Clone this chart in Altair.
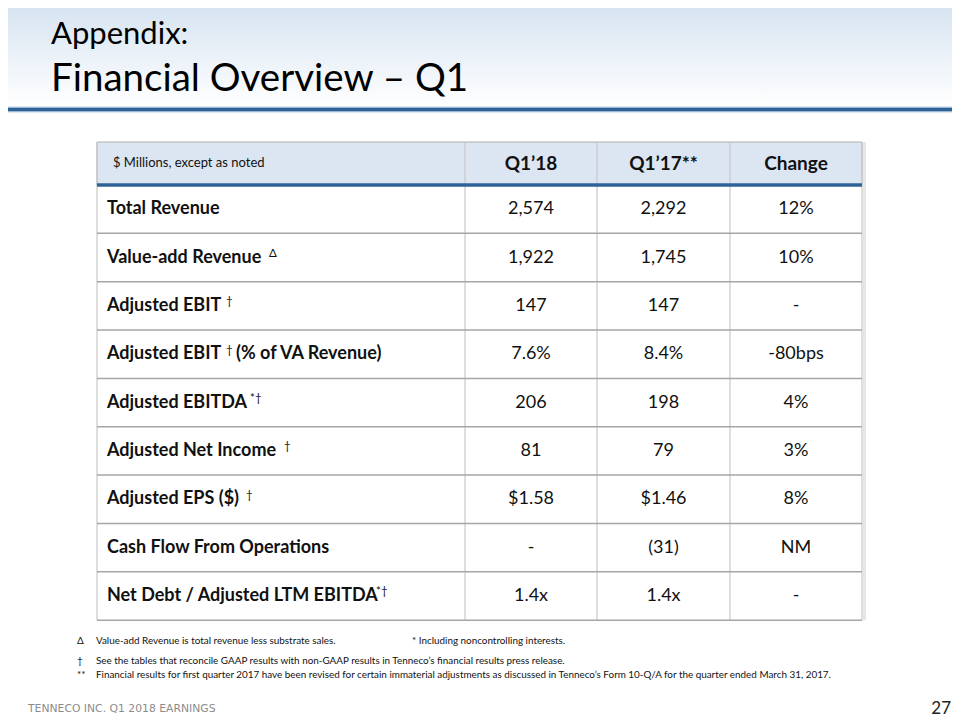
import altair as alt
import pandas as pd

# ---------------- data ----------------
title_line1 = "Appendix:"
title_line2 = "Financial Overview \u2013 Q1"
header_note = "$ Millions, except as noted"
columns = ["Q1\u201918", "Q1\u201917**", "Change"]

metrics = [
    "Total Revenue",
    "Value-add Revenue",
    "Adjusted EBIT",
    "Adjusted EBIT",
    "Adjusted EBITDA",
    "Adjusted Net Income",
    "Adjusted EPS ($)",
    "Cash Flow From Operations",
    "Net Debt / Adjusted LTM EBITDA",
]
metric_sup = ["", "\u0394", "\u2020", "\u2020", "*\u2020", "\u2020", "\u2020", "", "*\u2020"]
metric_suffix = ["", "", "", "(% of VA Revenue)", "", "", "", "", ""]
q1_18 = ["2,574", "1,922", "147", "7.6%", "206", "81", "$1.58", "-", "1.4x"]
q1_17 = ["2,292", "1,745", "147", "8.4%", "198", "79", "$1.46", "(31)", "1.4x"]
change = ["12%", "10%", "-", "-80bps", "4%", "3%", "8%", "NM", "-"]

footnote_symbols = ["\u0394", "\u2020", "**"]
footnote_texts = [
    "Value-add Revenue is total revenue less substrate sales.",
    "See the tables that reconcile GAAP results with non-GAAP results in Tenneco\u2019s financial results press release.",
    "Financial results for first quarter 2017  have been revised for certain immaterial adjustments as discussed in Tenneco\u2019s Form 10-Q/A for the quarter ended March 31, 2017.",
]
footnote_extra = "* Including noncontrolling interests."
footer_left = "TENNECO INC. Q1 2018 EARNINGS"
page_number = "27"

# ---------------- layout ----------------
FONT = "Lato"
W, H = 944, 712
X0, Y0 = 8, 8
xs = alt.Scale(domain=[X0, X0 + W], nice=False, zero=False)
ys = alt.Scale(domain=[Y0, Y0 + H], nice=False, zero=False, reverse=True)

COL_EDGES = [97, 465, 597, 730, 862]
HEAD_TOP, HEAD_BOT = 142, 185
ROW_H = 48.35
N = len(metrics)
LABEL_X = 107
SUP_X = [0, 269, 226, 226, 250, 284, 246, 0, 376]
SUFFIX_X = 236


def X(f="x"):
    return alt.X(f"{f}:Q", scale=xs, axis=None)


def Y(f="y"):
    return alt.Y(f"{f}:Q", scale=ys, axis=None)


def text_layer(df, font=FONT, **kw):
    return alt.Chart(df).mark_text(font=font, **kw).encode(x=X(), y=Y(), text="t:N")


layers = []

# title band gradient
band = pd.DataFrame({"x": [X0], "x2": [X0 + W], "y": [Y0], "y2": [106]})
layers.append(
    alt.Chart(band).mark_rect(
        color={
            "gradient": "linear", "x1": 0, "x2": 0, "y1": 0, "y2": 1,
            "stops": [{"offset": 0, "color": "#D7E4F1"}, {"offset": 1, "color": "#FFFFFF"}],
        }
    ).encode(x=X(), x2="x2", y=Y(), y2="y2")
)
# title underline
tl = pd.DataFrame({"x": [X0], "x2": [X0 + W], "y": [109.5]})
layers.append(alt.Chart(tl).mark_rule(color="#BFD3E8", strokeWidth=6).encode(x=X(), x2="x2", y=Y()))
layers.append(alt.Chart(tl).mark_rule(color="#2F6397", strokeWidth=3.5).encode(x=X(), x2="x2", y=Y()))

# title texts
layers.append(text_layer(pd.DataFrame({"x": [51], "y": [44], "t": [title_line1]}),
                         align="left", baseline="alphabetic", fontSize=31, color="#000000"))
layers.append(text_layer(pd.DataFrame({"x": [51], "y": [91], "t": [title_line2]}),
                         align="left", baseline="alphabetic", fontSize=38.5, color="#000000"))

# header background
hb = pd.DataFrame({"x": [COL_EDGES[0]], "x2": [COL_EDGES[-1]], "y": [HEAD_TOP], "y2": [HEAD_BOT]})
layers.append(alt.Chart(hb).mark_rect(color="#DCE6F2", stroke="#B0B0B0", strokeWidth=1)
              .encode(x=X(), x2="x2", y=Y(), y2="y2"))

# vertical grid lines
bottom = HEAD_BOT + N * ROW_H
vl = pd.DataFrame({"x": COL_EDGES, "y": [HEAD_TOP] * 5, "y2": [bottom] * 5})
layers.append(alt.Chart(vl).mark_rule(color="#C8C8C8", strokeWidth=1.2).encode(x=X(), y=Y(), y2="y2"))
# right shadow
sh = pd.DataFrame({"x": [COL_EDGES[-1] + 2.5], "y": [HEAD_TOP], "y2": [bottom]})
layers.append(alt.Chart(sh).mark_rule(color="#E6E6E6", strokeWidth=3).encode(x=X(), y=Y(), y2="y2"))

# horizontal row lines
hl = pd.DataFrame({"y": [HEAD_BOT + (i + 1) * ROW_H for i in range(N)]})
hl["x"] = COL_EDGES[0]
hl["x2"] = COL_EDGES[-1]
layers.append(alt.Chart(hl).mark_rule(color="#A6A6A6", strokeWidth=1.5).encode(x=X(), x2="x2", y=Y()))
# thick blue header line
bl = pd.DataFrame({"x": [COL_EDGES[0]], "x2": [COL_EDGES[-1]], "y": [HEAD_BOT]})
layers.append(alt.Chart(bl).mark_rule(color="#2F6397", strokeWidth=3.5).encode(x=X(), x2="x2", y=Y()))

# header texts
layers.append(text_layer(pd.DataFrame({"x": [113], "y": [163], "t": [header_note]}),
                         align="left", baseline="middle", fontSize=13, color="#111111"))
col_centers = [(COL_EDGES[i + 1] + COL_EDGES[i + 2]) / 2 for i in range(3)]
layers.append(text_layer(pd.DataFrame({"x": col_centers, "y": [164] * 3, "t": columns}),
                         align="center", baseline="middle", fontSize=19, fontWeight="bold", color="#111111"))

# row texts
row_y = [HEAD_BOT + (i + 0.5) * ROW_H for i in range(N)]
layers.append(text_layer(pd.DataFrame({"x": [LABEL_X] * N, "y": row_y, "t": metrics}),
                         align="left", baseline="middle", fontSize=18, fontWeight="bold", color="#111111"))
sup_df = pd.DataFrame({"x": SUP_X, "y": [y - 3.5 for y in row_y], "t": metric_sup})
sup_df = sup_df[sup_df["t"] != ""]
layers.append(text_layer(sup_df, align="left", baseline="middle", fontSize=11.5, color="#111111"))
suf_df = pd.DataFrame({"x": [SUFFIX_X] * N, "y": row_y, "t": metric_suffix})
suf_df = suf_df[suf_df["t"] != ""]
layers.append(text_layer(suf_df, align="left", baseline="middle", fontSize=18, fontWeight="bold", color="#111111"))

for ci, vals in enumerate([q1_18, q1_17, change]):
    layers.append(text_layer(pd.DataFrame({"x": [col_centers[ci]] * N, "y": row_y, "t": vals}),
                             align="center", baseline="middle", fontSize=18, color="#111111"))

# footnotes
fy = [641, 661, 675]
layers.append(text_layer(pd.DataFrame({"x": [77] * 3, "y": fy, "t": footnote_symbols}),
                         align="left", baseline="middle", fontSize=10, color="#111111"))
layers.append(text_layer(pd.DataFrame({"x": [96] * 3, "y": fy, "t": footnote_texts}),
                         align="left", baseline="middle", fontSize=9.9, color="#111111"))
layers.append(text_layer(pd.DataFrame({"x": [412], "y": [fy[0]], "t": [footnote_extra]}),
                         align="left", baseline="middle", fontSize=9.9, color="#111111"))

# footer
layers.append(text_layer(pd.DataFrame({"x": [28], "y": [709], "t": [footer_left]}),
                         font="DejaVu Sans", align="left", baseline="middle", fontSize=10.8, color="#8C8C8C"))
layers.append(text_layer(pd.DataFrame({"x": [951], "y": [709], "t": [page_number]}),
                         align="right", baseline="middle", fontSize=17, color="#222222"))

chart = alt.layer(*layers).properties(
    width=W, height=H, padding=0, autosize="none"
).configure_view(stroke=None)

chart.save("out.html", embed_options={"renderer": "svg", "actions": False})
